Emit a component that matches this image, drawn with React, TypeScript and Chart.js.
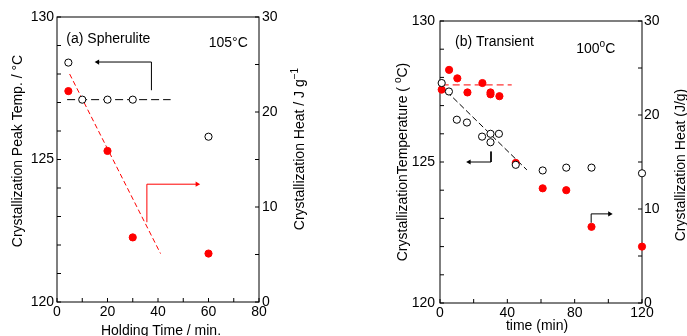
import React, { useEffect, useRef } from 'react';
import { Chart, registerables } from 'chart.js';

Chart.register(...registerables);

// ---------- (a) Spherulite, 105 °C ----------
const spherTimeTemp = [4.5, 10, 20, 30, 60];
const spherTemp = [128.4, 127.1, 127.1, 127.1, 125.8];
const spherTimeHeat = [4.5, 20, 30, 60];
const spherHeat = [22.2, 15.9, 6.8, 5.1];
const spherTempFitX = [4, 45];
const spherTempFitY = [127.1, 127.1];
const spherHeatFitX = [5, 41];
const spherHeatFitY = [24.0, 5.1];
const spherTempArrowX = [37.4, 37.4, 16.1];
const spherTempArrowY = [127.43, 128.42, 128.42];
const spherHeatArrowX = [35.6, 35.6, 55.5];
const spherHeatArrowY = [8.4, 12.4, 12.4];

// ---------- (b) Transient, 100 °C ----------
const transTimeTemp = [1, 5.3, 10, 16, 25, 30, 30, 35, 45, 61, 75, 90, 120];
const transTemp = [127.8, 127.5, 126.5, 126.4, 125.9, 126.0, 125.7, 126.0, 124.9, 124.7, 124.8, 124.8, 124.6];
const transTimeHeat = [1, 5.4, 10.3, 16.3, 25.2, 30, 30, 35.3, 45, 61, 75, 90, 120];
const transHeat = [22.7, 24.8, 23.9, 22.4, 23.4, 22.4, 22.2, 22.0, 14.9, 12.2, 12.0, 8.1, 6.0];
const transHeatFitX = [1, 42.6];
const transHeatFitY = [23.2, 23.2];
const transTempFitX = [4, 51.6];
const transTempFitY = [127.5, 124.72];
const transTempArrowX = [30.3, 30.3, 17.3];
const transTempArrowY = [125.37, 125.0, 125.0];
const transHeatArrowX = [89.8, 89.8, 100.8];
const transHeatArrowY = [8.53, 9.48, 9.48];

// ---------- axes ----------
const tempMin = 120, tempMax = 130, tempStep = 1, tempLabelEvery = 5;
const heatMin = 0, heatMax = 30, heatStep = 5, heatLabelEvery = 10;
const spherXMax = 80, spherXStep = 10, spherXLabelEvery = 20;
const transXMax = 120, transXStep = 20, transXLabelEvery = 40;

// ---------- texts ----------
const spherYTitle = 'Crystallization Peak Temp. / °C';
const spherY2Title = 'Crystallization Heat / J g';
const spherY2TitleSup = '−1';
const spherXTitle = 'Holding Time / min.';
const spherLabel = '(a) Spherulite';
const spherTempLabel = '105°C';
const transYTitle = 'CrystallizationTemperature ( ';
const transXTitle = 'time (min)';
const transY2Title = 'Crystallization Heat (J/g)';
const transLabel = '(b) Transient';
const transTempLabel = '100';

const FONT = "'Liberation Sans', Arial, Helvetica, sans-serif";
const RED = '#ff0000';

type Seg = { t: string; sup?: boolean };

const pts = (xs: number[], ys: number[]) => xs.map((x, i) => ({ x, y: ys[i] }));

function drawRich(ctx: CanvasRenderingContext2D, segs: Seg[], x: number, y: number, size: number, center: boolean, rotate: boolean) {
  ctx.save();
  ctx.translate(x, y);
  if (rotate) ctx.rotate(-Math.PI / 2);
  ctx.fillStyle = '#000';
  ctx.textAlign = 'left';
  ctx.textBaseline = 'alphabetic';
  const widths = segs.map((s) => {
    ctx.font = `${s.sup ? size * 0.72 : size}px ${FONT}`;
    return ctx.measureText(s.t).width;
  });
  const total = widths.reduce((a, b) => a + b, 0);
  let cx = center ? -total / 2 : 0;
  segs.forEach((s, i) => {
    ctx.font = `${s.sup ? size * 0.72 : size}px ${FONT}`;
    ctx.fillText(s.t, cx, s.sup ? -size * 0.42 : 0);
    cx += widths[i];
  });
  ctx.restore();
}

const decorPlugin = {
  id: 'decor',
  beforeDatasetsDraw(chart: any) {
    const { ctx, chartArea: a, scales } = chart;
    ctx.save();
    ctx.strokeStyle = '#000';
    ctx.lineWidth = 1;
    ctx.strokeRect(a.left, a.top, a.right - a.left, a.bottom - a.top);
    const L = 4;
    ctx.beginPath();
    scales.x.ticks.forEach((t: any) => {
      const p = scales.x.getPixelForValue(t.value);
      ctx.moveTo(p, a.bottom);
      ctx.lineTo(p, a.bottom - L);
    });
    scales.y.ticks.forEach((t: any) => {
      const p = scales.y.getPixelForValue(t.value);
      ctx.moveTo(a.left, p);
      ctx.lineTo(a.left + L, p);
    });
    scales.y2.ticks.forEach((t: any) => {
      const p = scales.y2.getPixelForValue(t.value);
      ctx.moveTo(a.right, p);
      ctx.lineTo(a.right - L, p);
    });
    ctx.stroke();
    ctx.restore();
  },
  afterDraw(chart: any, _args: any, opts: any) {
    const { ctx, scales } = chart;
    (opts.titles || []).forEach((tt: any) => drawRich(ctx, tt.segs, tt.x, tt.y, tt.size, true, tt.rotate));
    (opts.notes || []).forEach((n: any) => {
      const px = scales.x.getPixelForValue(n.x);
      const py = scales.y.getPixelForValue(n.y);
      drawRich(ctx, n.segs, px, py, n.size, false, false);
    });
  },
};

function openDs(data: any[]) {
  return {
    data,
    yAxisID: 'y',
    showLine: false,
    pointRadius: 3.6,
    pointBackgroundColor: '#fff',
    pointBorderColor: '#000',
    pointBorderWidth: 1,
    clip: false,
  };
}
function redDs(data: any[]) {
  return {
    data,
    yAxisID: 'y2',
    showLine: false,
    pointRadius: 3.6,
    pointBackgroundColor: RED,
    pointBorderColor: RED,
    pointBorderWidth: 1,
    clip: false,
  };
}
function dashDs(data: any[], axis: string, color: string, dash: number[]) {
  return {
    data,
    yAxisID: axis,
    showLine: true,
    borderColor: color,
    borderWidth: 1,
    borderDash: dash,
    pointRadius: 0,
    clip: false,
  };
}
function arrowDs(data: any[], axis: string, color: string, dir: number) {
  return {
    data,
    yAxisID: axis,
    showLine: true,
    borderColor: color,
    borderWidth: 1,
    pointRadius: [0, 0, 3],
    pointStyle: 'triangle',
    pointRotation: [0, 0, dir],
    pointBackgroundColor: color,
    pointBorderColor: color,
    pointBorderWidth: 0,
    clip: false,
  };
}

function buildConfig(p: any): any {
  const tickFont = { family: FONT, size: 14 };
  return {
    type: 'scatter',
    data: { datasets: p.datasets },
    plugins: [decorPlugin],
    options: {
      animation: false,
      responsive: false,
      maintainAspectRatio: false,
      events: [],
      layout: { padding: { top: p.top, left: 0, right: 0, bottom: 0 } },
      plugins: {
        legend: { display: false },
        tooltip: { enabled: false },
        decor: { titles: p.titles, notes: p.notes },
      },
      scales: {
        x: {
          type: 'linear',
          min: 0,
          max: p.xMax,
          grid: { display: false, drawTicks: false },
          border: { display: false },
          ticks: {
            stepSize: p.xStep,
            autoSkip: false,
            maxRotation: 0,
            padding: 2,
            color: '#000',
            font: tickFont,
            callback: (v: any) => (Number(v) % p.xLabelEvery === 0 ? String(v) : ''),
          },
          afterFit: (s: any) => { s.height = p.bottomH; },
        },
        y: {
          type: 'linear',
          position: 'left',
          min: tempMin,
          max: tempMax,
          grid: { display: false, drawTicks: false },
          border: { display: false },
          ticks: {
            stepSize: tempStep,
            autoSkip: false,
            padding: p.leftPad,
            color: '#000',
            font: tickFont,
            callback: (v: any) => (Number(v) % tempLabelEvery === 0 ? String(v) : ''),
          },
          afterFit: (s: any) => { s.width = p.leftW; },
        },
        y2: {
          type: 'linear',
          position: 'right',
          min: heatMin,
          max: heatMax,
          grid: { display: false, drawTicks: false },
          border: { display: false },
          ticks: {
            stepSize: heatStep,
            autoSkip: false,
            padding: p.rightPad,
            color: '#000',
            font: tickFont,
            callback: (v: any) => (Number(v) % heatLabelEvery === 0 ? String(v) : ''),
          },
          afterFit: (s: any) => { s.width = p.rightW; },
        },
      },
    },
  };
}

const panelA = {
  xMax: spherXMax,
  xStep: spherXStep,
  xLabelEvery: spherXLabelEvery,
  top: 17,
  leftW: 57,
  rightW: 81,
  bottomH: 34,
  leftPad: 3,
  rightPad: 3,
  datasets: [
    openDs(pts(spherTimeTemp, spherTemp)),
    redDs(pts(spherTimeHeat, spherHeat)),
    dashDs(pts(spherTempFitX, spherTempFitY), 'y', '#000', [8, 4]),
    dashDs(pts(spherHeatFitX, spherHeatFitY), 'y2', RED, [5, 3]),
    arrowDs(pts(spherTempArrowX, spherTempArrowY), 'y', '#000', -90),
    arrowDs(pts(spherHeatArrowX, spherHeatArrowY), 'y2', RED, 90),
  ],
  titles: [
    { segs: [{ t: spherYTitle }], x: 21.5, y: 151, size: 14, rotate: true },
    { segs: [{ t: spherY2Title }, { t: spherY2TitleSup, sup: true }], x: 303.5, y: 149, size: 14, rotate: true },
    { segs: [{ t: spherXTitle }], x: 161, y: 335, size: 14, rotate: false },
  ],
  notes: [
    { segs: [{ t: spherLabel }], x: 3.7, y: 129.08, size: 14 },
    { segs: [{ t: spherTempLabel }], x: 60.1, y: 128.95, size: 14 },
  ],
};

const panelB = {
  xMax: transXMax,
  xStep: transXStep,
  xLabelEvery: transXLabelEvery,
  top: 21,
  leftW: 100,
  rightW: 45,
  bottomH: 33,
  leftPad: 5,
  rightPad: 2,
  datasets: [
    openDs(pts(transTimeTemp, transTemp)),
    redDs(pts(transTimeHeat, transHeat)),
    dashDs(pts(transTempFitX, transTempFitY), 'y', '#000', [6, 3]),
    dashDs(pts(transHeatFitX, transHeatFitY), 'y2', RED, [7, 4]),
    arrowDs(pts(transTempArrowX, transTempArrowY), 'y', '#000', -90),
    arrowDs(pts(transHeatArrowX, transHeatArrowY), 'y2', '#000', 90),
  ],
  titles: [
    { segs: [{ t: transYTitle }, { t: 'o', sup: true }, { t: 'C)' }], x: 67, y: 162, size: 14, rotate: true },
    { segs: [{ t: transY2Title }], x: 344.5, y: 165, size: 14, rotate: true },
    { segs: [{ t: transXTitle }], x: 197, y: 329.5, size: 14, rotate: false },
  ],
  notes: [
    { segs: [{ t: transLabel }], x: 8.9, y: 129.12, size: 14 },
    { segs: [{ t: transTempLabel }, { t: 'o', sup: true }, { t: 'C' }], x: 80.9, y: 128.86, size: 14 },
  ],
};

export default function App() {
  const refA = useRef<HTMLCanvasElement>(null);
  const refB = useRef<HTMLCanvasElement>(null);
  useEffect(() => {
    document.body.style.margin = '0';
    const a = new Chart(refA.current as HTMLCanvasElement, buildConfig(panelA));
    const b = new Chart(refB.current as HTMLCanvasElement, buildConfig(panelB));
    return () => {
      a.destroy();
      b.destroy();
    };
  }, []);
  return (
    <div style={{ position: 'fixed', left: 0, top: 0, width: 687, height: 336, overflow: 'hidden', background: '#fff' }}>
      <canvas ref={refA} width={340} height={336} style={{ position: 'absolute', left: 0, top: 0, width: 340, height: 336 }} />
      <canvas ref={refB} width={347} height={336} style={{ position: 'absolute', left: 340, top: 0, width: 347, height: 336 }} />
    </div>
  );
}
